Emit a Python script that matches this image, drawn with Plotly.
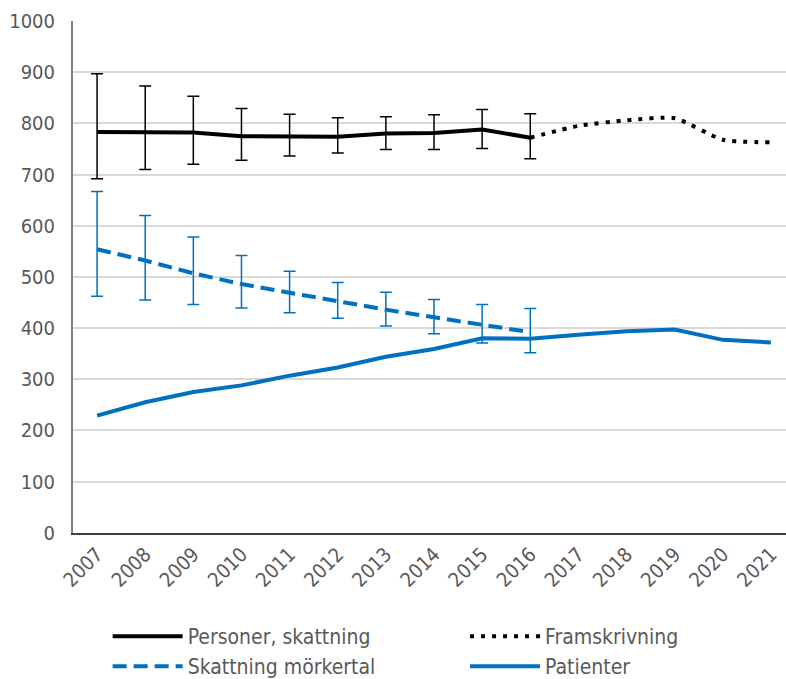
import plotly.graph_objects as go

years = [str(y) for y in range(2007, 2022)]

# Personer, skattning (2007-2016) with asymmetric error bars
personer = [783, 783, 782, 775, 775, 774, 780, 781, 788, 772]
personer_hi = [897, 873, 853, 829, 818, 811, 813, 817, 827, 819]
personer_lo = [692, 710, 720, 728, 736, 742, 749, 749, 751, 731]

# Framskrivning (2016-2021)
fram_years = years[9:]
framskrivning = [772, 795, 806, 810, 768, 763]

# Skattning mörkertal (2007-2016)
morkertal = [554, 532, 507, 486, 469, 452, 436, 421, 406, 392]
morkertal_hi = [667, 620, 578, 542, 511, 489, 470, 456, 446, 438]
morkertal_lo = [462, 455, 446, 439, 430, 419, 404, 389, 371, 352]

# Patienter (2007-2021)
patienter = [229, 255, 275, 288, 307, 323, 344, 359, 380, 379, 387, 394, 397, 377, 372]

BLUE = "#0070C0"
FONT = "DejaVu Sans Condensed, Liberation Sans Narrow, sans-serif"

fig = go.Figure()

fig.add_trace(go.Scatter(
    x=years[:10], y=personer, mode="lines", name="Personer, skattning", legend="legend",
    line=dict(color="black", width=4),
    error_y=dict(type="data", symmetric=False,
                 array=[h - v for h, v in zip(personer_hi, personer)],
                 arrayminus=[v - l for v, l in zip(personer, personer_lo)],
                 color="black", thickness=1.5, width=6)))

fig.add_trace(go.Scatter(
    x=fram_years, y=framskrivning, mode="lines", name="Framskrivning", legend="legend2",
    line=dict(color="black", width=4, dash="4px,7px", shape="spline", smoothing=0.6)))

fig.add_trace(go.Scatter(
    x=years[:10], y=morkertal, mode="lines", name="Skattning mörkertal", legend="legend3",
    line=dict(color=BLUE, width=4, dash="14px,7px"),
    error_y=dict(type="data", symmetric=False,
                 array=[h - v for h, v in zip(morkertal_hi, morkertal)],
                 arrayminus=[v - l for v, l in zip(morkertal, morkertal_lo)],
                 color=BLUE, thickness=1.5, width=6)))

fig.add_trace(go.Scatter(
    x=years, y=patienter, mode="lines", name="Patienter", legend="legend4",
    line=dict(color=BLUE, width=4)))

leg = dict(orientation="h", xanchor="left", yanchor="top",
           font=dict(size=21, color="#595959"), itemwidth=70,
           bgcolor="rgba(0,0,0,0)")
col1, col2 = 0.048, 0.543
row1, row2 = 0.097, 0.051

# the captured page comes out ~1% smaller, so the figure is sized up a little
fig.update_layout(
    width=795, height=687,
    margin=dict(l=73, r=0, t=21, b=0),
    plot_bgcolor="white", paper_bgcolor="white",
    font=dict(family=FONT, size=20, color="#595959"),
    showlegend=True,
    legend=dict(x=col1, y=row1, **leg),
    legend2=dict(x=col2, y=row1, **leg),
    legend3=dict(x=col1, y=row2, **leg),
    legend4=dict(x=col2, y=row2, **leg),
    xaxis=dict(type="category", range=[-0.5, 14.5], tickangle=-45, showgrid=False,
               showline=True, linecolor="#404040", linewidth=2, automargin=False,
               ticks="", tickfont=dict(size=20)),
    yaxis=dict(range=[0, 1000], dtick=100, domain=[0.2234, 1], automargin=False,
               showgrid=True, gridcolor="#D9D9D9", gridwidth=2,
               showline=True, linecolor="#808080", linewidth=2, zeroline=False,
               ticks="", tickfont=dict(size=20), ticklabelstandoff=12),
)

# drop the default 8px body margin so the figure starts at the window corner
fig.write_html("out.html", config={"displayModeBar": False},
               post_script="document.body.style.margin='0px';")
